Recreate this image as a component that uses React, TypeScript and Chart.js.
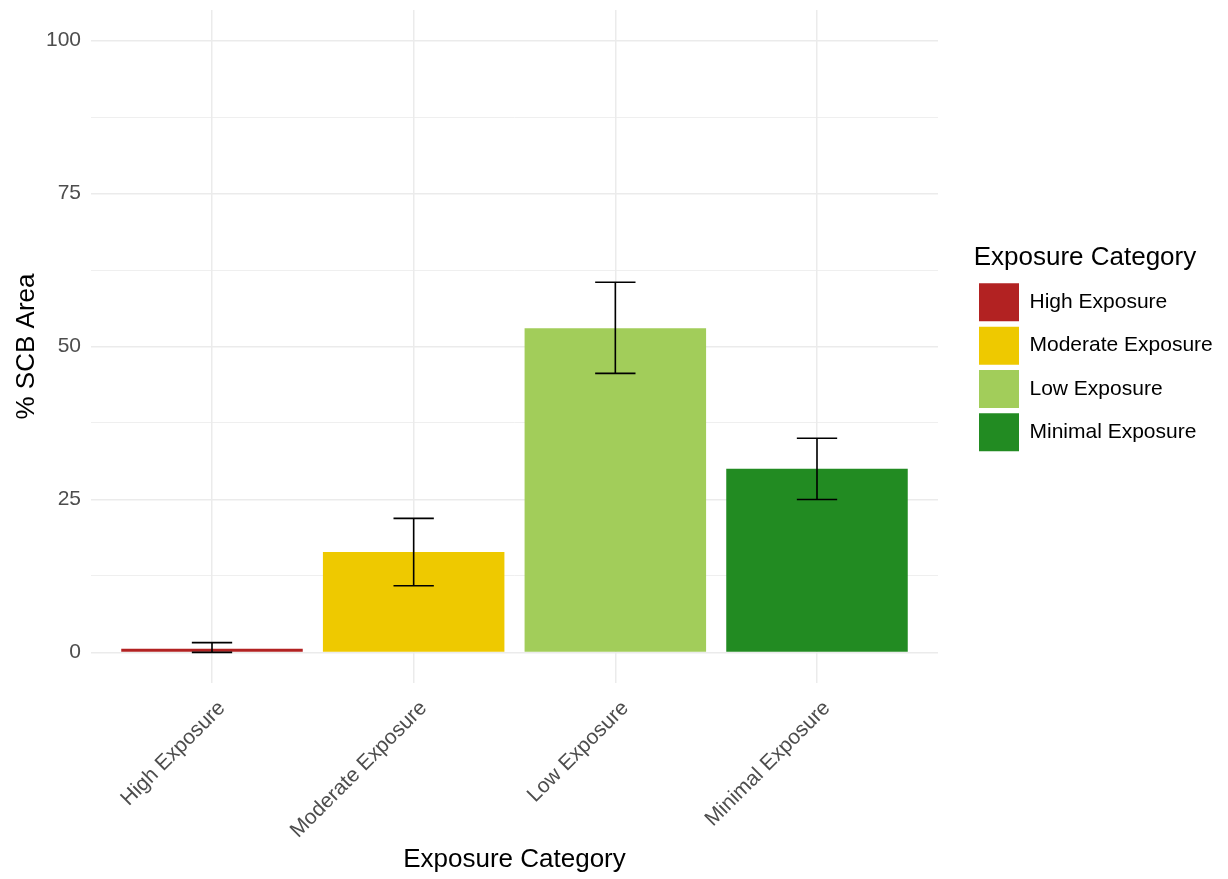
import React, { useEffect, useRef } from 'react';
import { Chart, registerables } from 'chart.js';

Chart.register(...registerables);

// ---- data ----
const categories = ['High Exposure', 'Moderate Exposure', 'Low Exposure', 'Minimal Exposure'];
const meanValues = [0.6, 16.4, 53.0, 30.0];
const lowerValues = [0, 10.9, 45.6, 25.0];
const upperValues = [1.6, 21.9, 60.5, 35.0];
const majorTicks = [0, 25, 50, 75, 100];
const minorTicks = [12.5, 37.5, 62.5, 87.5];
const barColors = ['#B22222', '#EEC900', '#A2CD5A', '#228B22'];

// ---- styles / layout ----
const FONT = "'Liberation Sans', Arial, sans-serif";
const W = 1228;
const H = 879;
const PLOT_LEFT = 91;
const PLOT_RIGHT = 938;
const PLOT_TOP = 10;
const PLOT_BOTTOM = 683;
const LEGEND_GAP = 41;
const LEGEND_TOP = 243;
const LEGEND_PAD = 5.33;
const LEGEND_BOX_W = 40;
const LEGEND_BOX_H = 38;
const LEGEND_FONT = 21;
const ERR_CAP = 0.2;
const GRID = '#EBEBEB';

const errorBarPlugin = {
  id: 'errorBars',
  afterDatasetsDraw(chart: any) {
    const { ctx } = chart;
    const y = chart.scales.y;
    const x = chart.scales.x;
    const meta = chart.getDatasetMeta(0);
    ctx.save();
    ctx.strokeStyle = '#000000';
    ctx.lineWidth = 1.6;
    categories.forEach((_, i) => {
      const el = meta.data[i];
      const px = el.x;
      const half = x.getPixelForValue(i + 1 + ERR_CAP / 2) - x.getPixelForValue(i + 1);
      const yl = y.getPixelForValue(lowerValues[i]);
      const yh = y.getPixelForValue(upperValues[i]);
      ctx.beginPath();
      ctx.moveTo(px, yl);
      ctx.lineTo(px, yh);
      ctx.moveTo(px - half, yl);
      ctx.lineTo(px + half, yl);
      ctx.moveTo(px - half, yh);
      ctx.lineTo(px + half, yh);
      ctx.stroke();
    });
    ctx.restore();
  },
};

const legendPlacePlugin = {
  id: 'legendPlace',
  afterLayout(chart: any) {
    const lg = chart.legend;
    if (!lg) return;
    const dx = chart.chartArea.right + LEGEND_GAP - LEGEND_PAD - lg.left;
    lg.left += dx;
    lg.right += dx;
    const h = lg.bottom - lg.top;
    lg.top = LEGEND_TOP;
    lg.bottom = LEGEND_TOP + h;
  },
};

export default function App() {
  const ref = useRef<HTMLCanvasElement | null>(null);

  useEffect(() => {
    if (!ref.current) return;
    const mc = document.createElement('canvas').getContext('2d') as CanvasRenderingContext2D;
    mc.font = `${LEGEND_FONT}px ${FONT}`;
    const maxText = Math.max(...categories.map((c) => mc.measureText(c).width));
    const legendW = LEGEND_PAD + LEGEND_BOX_W + LEGEND_FONT / 2 + maxText + 10;
    const padRight = W - PLOT_RIGHT - legendW;

    const chart = new Chart(ref.current, {
      type: 'bar',
      data: {
        datasets: [
          {
            label: 'Exposure',
            data: categories.map((_, i) => ({ x: i + 1, y: meanValues[i] })),
            backgroundColor: barColors,
            borderWidth: 0,
            categoryPercentage: 1,
            barPercentage: 0.9,
          },
        ],
      },
      options: {
        responsive: false,
        animation: false,
        devicePixelRatio: 1,
        layout: { padding: { top: PLOT_TOP, right: padRight, bottom: 0, left: 0 } },
        plugins: {
          tooltip: { enabled: false },
          legend: {
            display: true,
            position: 'right',
            align: 'start',
            onClick: () => {},
            title: {
              display: true,
              text: 'Exposure Category',
              color: '#000000',
              position: 'start',
              font: { size: 26, family: FONT },
              padding: { top: 2, bottom: 1.8 },
            },
            labels: {
              boxWidth: LEGEND_BOX_W,
              boxHeight: LEGEND_BOX_H,
              padding: LEGEND_PAD,
              color: '#000000',
              font: { size: LEGEND_FONT, family: FONT },
              generateLabels: () =>
                categories.map((c, i) => ({
                  text: c,
                  fillStyle: barColors[i],
                  strokeStyle: barColors[i],
                  lineWidth: 0,
                  hidden: false,
                  index: i,
                  datasetIndex: 0,
                })),
            },
          },
        },
        scales: {
          x: {
            type: 'linear',
            offset: false,
            min: 0.4,
            max: 4.6,
            afterBuildTicks: (s: any) => {
              s.ticks = categories.map((_, i) => ({ value: i + 1 }));
            },
            afterFit: (s: any) => {
              s.height = H - PLOT_BOTTOM;
              s.paddingLeft = 0;
              s.paddingRight = 0;
            },
            grid: { color: GRID, lineWidth: 1.5, drawTicks: false, offset: false },
            border: { display: false },
            ticks: {
              autoSkip: false,
              minRotation: 45,
              maxRotation: 45,
              padding: 13,
              labelOffset: 10,
              color: '#4D4D4D',
              font: { size: 21, family: FONT },
              callback: (v: any) => categories[Math.round(Number(v)) - 1] ?? '',
            },
            title: {
              display: true,
              text: 'Exposure Category',
              color: '#000000',
              font: { size: 26, family: FONT },
              padding: { top: 0, bottom: 3.4 },
            },
          },
          y: {
            type: 'linear',
            min: -5,
            max: 105,
            afterBuildTicks: (s: any) => {
              s.ticks = [...majorTicks, ...minorTicks].sort((a, b) => a - b).map((v) => ({ value: v }));
            },
            afterFit: (s: any) => {
              s.width = PLOT_LEFT;
              s.paddingTop = 0;
              s.paddingBottom = 0;
            },
            grid: {
              drawTicks: false,
              color: GRID,
              lineWidth: (ctx: any) => (majorTicks.includes(ctx.tick?.value) ? 1.5 : 0.8),
            },
            border: { display: false },
            ticks: {
              padding: 10,
              color: '#4D4D4D',
              font: { size: 21, family: FONT },
              callback: (v: any) => (majorTicks.includes(Number(v)) ? String(v) : ''),
            },
            title: {
              display: true,
              text: '% SCB Area',
              color: '#000000',
              font: { size: 26, family: FONT },
              padding: { top: 11, bottom: 0 },
            },
          },
        },
      } as any,
      plugins: [errorBarPlugin, legendPlacePlugin],
    });
    return () => chart.destroy();
  }, []);

  return (
    <div style={{ position: 'absolute', left: 0, top: 0, width: W, height: H, background: '#fff' }}>
      <canvas ref={ref} width={W} height={H} style={{ display: 'block' }} />
    </div>
  );
}
